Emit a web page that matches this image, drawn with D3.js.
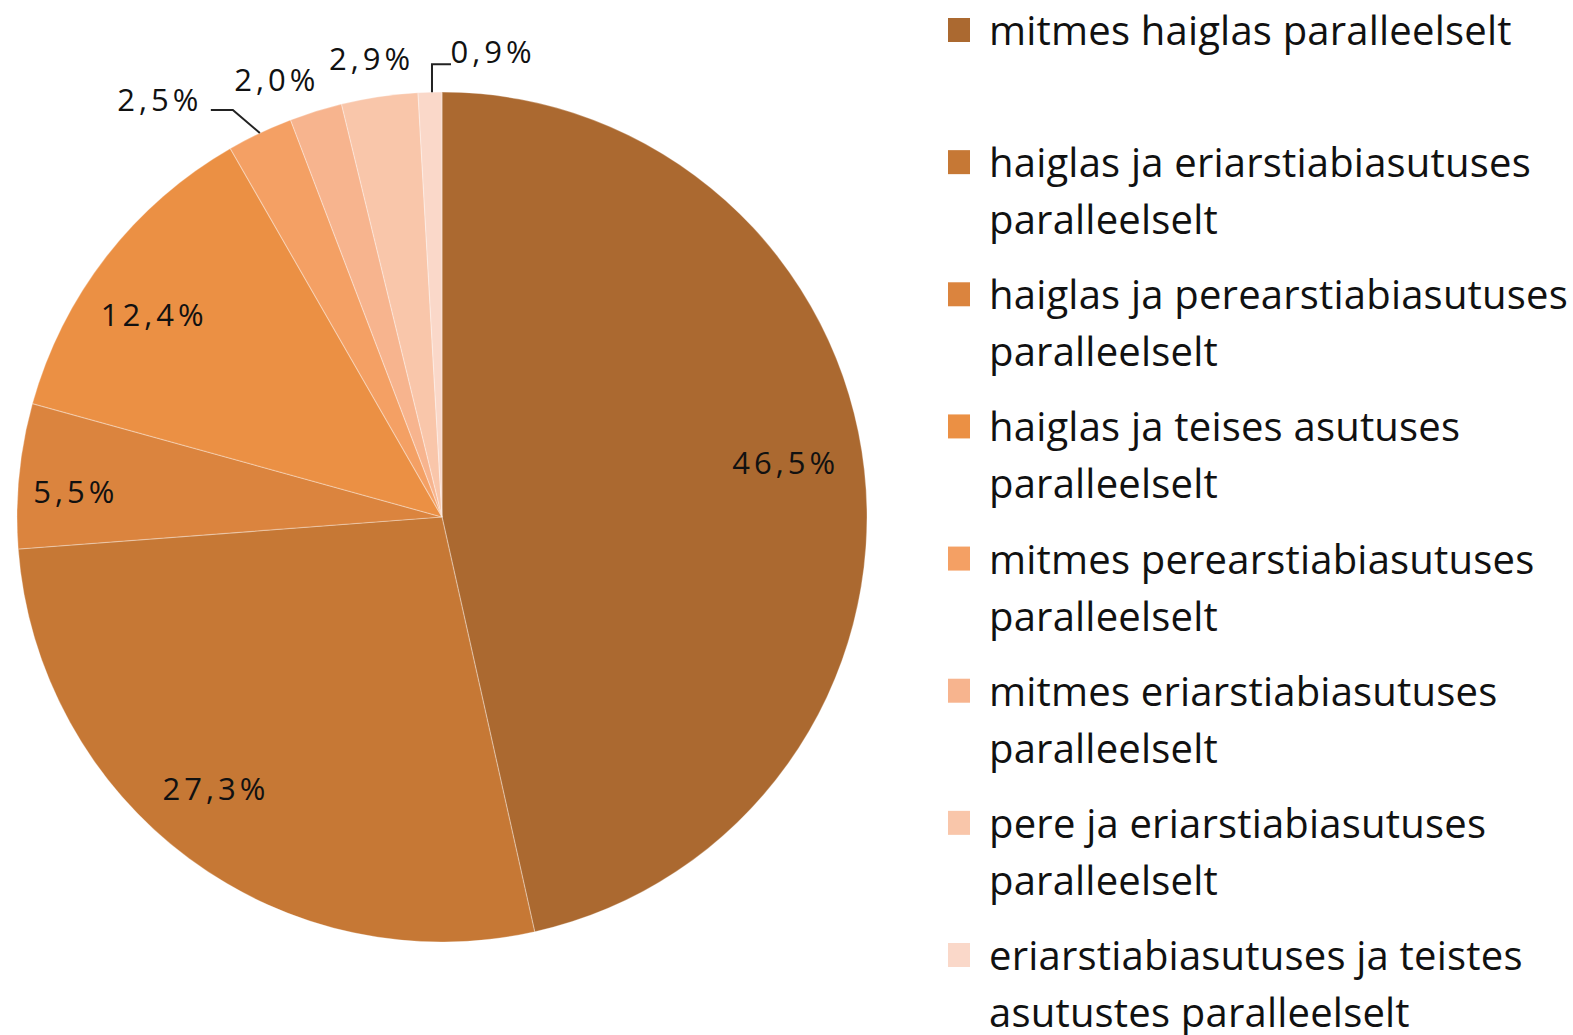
<!DOCTYPE html>
<html>
<head>
  <title>Paralleelne ravi</title>
  <script src="https://d3js.org/d3.v7.min.js"></script>
  <style>
    body { margin: 0; background: #fff; }
    .slice-label { font-family: "Open Sans", sans-serif; font-size: 31px; letter-spacing: 4px; fill: #111; }
    .legend-text { font-family: "Open Sans", sans-serif; font-size: 40px; letter-spacing: 0.2px; fill: #111; }
  </style>
</head>
<body>
  <svg id="chart"></svg>
  <script>
    // data
    const categories = [
      "mitmes haiglas paralleelselt",
      "haiglas ja eriarstiabiasutuses|paralleelselt",
      "haiglas ja perearstiabiasutuses|paralleelselt",
      "haiglas ja teises asutuses|paralleelselt",
      "mitmes perearstiabiasutuses|paralleelselt",
      "mitmes eriarstiabiasutuses|paralleelselt",
      "pere ja eriarstiabiasutuses|paralleelselt",
      "eriarstiabiasutuses ja teistes|asutustes paralleelselt"
    ];
    const values = [46.5, 27.3, 5.5, 12.4, 2.5, 2.0, 2.9, 0.9];
    const labels = ["46,5%", "27,3%", "5,5%", "12,4%", "2,5%", "2,0%", "2,9%", "0,9%"];
    const colors = ["#ab6930", "#c67835", "#db843e", "#eb9044", "#f4a064", "#f7b48e", "#f9c6aa", "#fad8c9"];

    const width = 1573, height = 1035;
    const cx = 442, cy = 517, R = 425;

    const svg = d3.select("#chart")
        .attr("width", width)
        .attr("height", height);

    const pie = d3.pie().sort(null).value(d => d)(values);
    const arc = d3.arc().innerRadius(0).outerRadius(R);
    const labelArc = d3.arc().innerRadius(R * 0.83).outerRadius(R * 0.83);
    const edgeArc = d3.arc().innerRadius(R).outerRadius(R);

    const g = svg.append("g").attr("transform", `translate(${cx},${cy})`);

    g.selectAll("path.slice")
      .data(pie)
      .enter()
      .append("path")
        .attr("class", "slice")
        .attr("d", arc)
        .attr("fill", (d, i) => colors[i])
        .attr("stroke", "rgba(255,255,255,0.3)")
        .attr("stroke-width", 1.2);

    // label nudges, like Excel's best-fit placement
    const insideNudge = { 0: [-7, -15], 1: [-16, -11], 2: [-15, 9], 3: [-9, 14] };
    const outsideNudge = { 4: [-100, -33], 5: [-39, -31], 6: [-8, -37], 7: [63, -40] };

    // inside labels for big slices
    const inside = pie.filter(d => d.value > 5);
    g.selectAll("text.inside")
      .data(inside)
      .enter()
      .append("text")
        .attr("class", "slice-label")
        .attr("transform", d => {
          const c = labelArc.centroid(d);
          const n = insideNudge[d.index];
          return `translate(${c[0] + n[0]},${c[1] + n[1]})`;
        })
        .attr("text-anchor", "middle")
        .attr("dy", "0.35em")
        .text(d => labels[d.index]);

    // outside labels for small slices
    const leaders = { 4: true, 7: true };
    const outside = pie.filter(d => d.value <= 5);

    outside.forEach(d => {
      const e = edgeArc.centroid(d);
      const n = outsideNudge[d.index];
      const lx = e[0] + n[0], ly = e[1] + n[1];
      if (leaders[d.index]) {
        let pts;
        if (d.index === 4) {
          pts = [[e[0], e[1]], [e[0] - 27, e[1] - 23], [e[0] - 49, e[1] - 23]];
        } else {
          pts = [[e[0] + 2, e[1]], [e[0] + 2, e[1] - 28], [e[0] + 21, e[1] - 28]];
        }
        g.append("path")
          .attr("d", d3.line()(pts))
          .attr("fill", "none")
          .attr("stroke", "#222")
          .attr("stroke-width", 2);
      }
      g.append("text")
        .attr("class", "slice-label")
        .attr("x", lx)
        .attr("y", ly)
        .attr("text-anchor", "middle")
        .attr("dy", "0.35em")
        .text(labels[d.index]);
    });

    // legend
    const ly = d3.scaleLinear().domain([0, categories.length - 1]).range([18, 943]);
    const legend = svg.append("g");
    const items = legend.selectAll("g.item")
      .data(categories)
      .enter()
      .append("g")
        .attr("transform", (d, i) => `translate(948,${ly(i)})`);

    items.append("rect")
      .attr("width", 22)
      .attr("height", 24)
      .attr("fill", (d, i) => colors[i]);

    items.each(function(d) {
      const t = d3.select(this).append("text")
        .attr("class", "legend-text")
        .attr("x", 41)
        .attr("y", 27);
      d.split("|").forEach((line, k) => {
        t.append("tspan")
          .attr("x", 41)
          .attr("dy", k === 0 ? 0 : 57)
          .text(line);
      });
    });
  </script>
</body>
</html>
